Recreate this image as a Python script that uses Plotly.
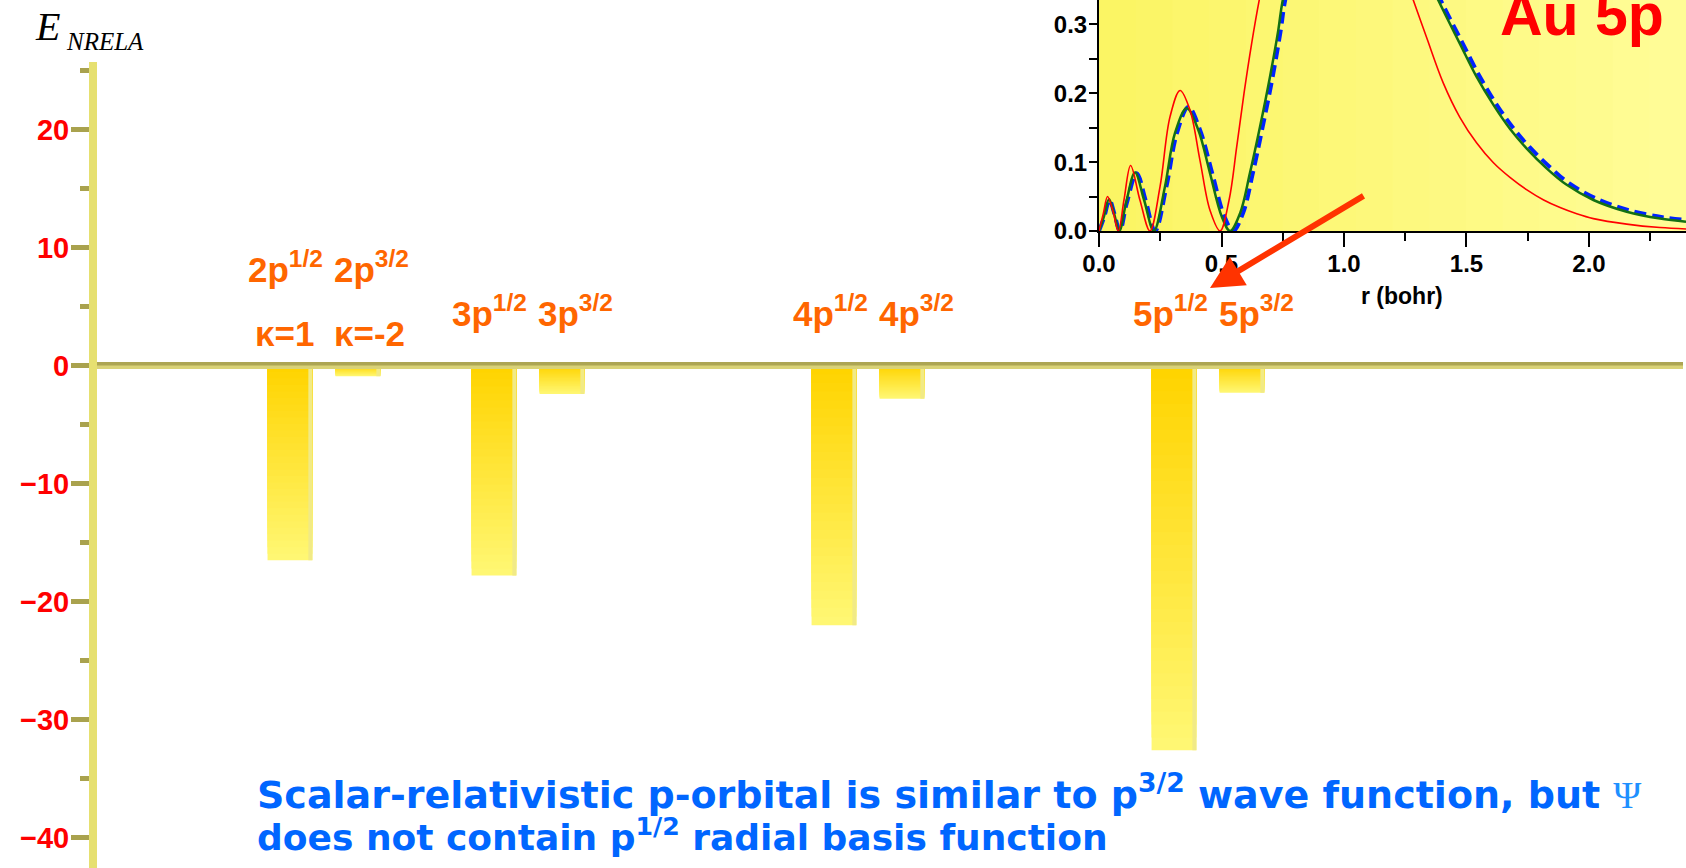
import plotly.graph_objects as go

# Bar chart: E_NRELA for the Au p-shells
levels = ['2p<sup>1/2</sup>', '2p<sup>3/2</sup>', '3p<sup>1/2</sup>', '3p<sup>3/2</sup>',
          '4p<sup>1/2</sup>', '4p<sup>3/2</sup>', '5p<sup>1/2</sup>', '5p<sup>3/2</sup>']
slots = [1, 2, 4, 5, 9, 10, 14, 15]
energies = [-16.5, -0.9, -17.8, -2.4, -22.0, -2.8, -32.6, -2.3]
kappas = ['κ=1', 'κ=-2']

# Inset: Au 5p radial densities vs r (bohr)
r_p12 = [0.0, 0.018, 0.035, 0.056, 0.079, 0.102, 0.129, 0.167, 0.208, 0.249, 0.290, 0.331,
         0.371, 0.412, 0.453, 0.494, 0.531, 0.562, 0.592, 0.623, 0.654, 0.72, 0.85, 0.95,
         1.08, 1.20, 1.283, 1.338, 1.405, 1.473, 1.541, 1.610, 1.680, 1.745, 1.815, 1.882,
         1.950, 2.018, 2.154, 2.290, 2.396]
d_p12 = [0.0, 0.026, 0.050, 0.030, 0.0, 0.045, 0.095, 0.045, 0.0, 0.064, 0.166, 0.204,
         0.176, 0.103, 0.030, 0.0, 0.045, 0.122, 0.200, 0.272, 0.335, 0.45, 0.55, 0.57,
         0.52, 0.42, 0.335, 0.280, 0.215, 0.165, 0.128, 0.099, 0.077, 0.060, 0.045, 0.034,
         0.025, 0.018, 0.010, 0.005, 0.003]

r_p32 = [0.0, 0.020, 0.041, 0.061, 0.083, 0.110, 0.147, 0.184, 0.224, 0.269, 0.310, 0.358,
         0.405, 0.453, 0.501, 0.535, 0.576, 0.616, 0.657, 0.698, 0.732, 0.750, 0.85, 1.0,
         1.15, 1.30, 1.385, 1.473, 1.541, 1.610, 1.678, 1.745, 1.827, 1.909, 2.018, 2.154,
         2.290, 2.396]
d_p32 = [0.0, 0.021, 0.046, 0.026, 0.0, 0.040, 0.085, 0.045, 0.0, 0.064, 0.142, 0.178,
         0.147, 0.084, 0.021, 0.0, 0.026, 0.084, 0.151, 0.224, 0.292, 0.335, 0.48, 0.55,
         0.50, 0.40, 0.335, 0.272, 0.224, 0.183, 0.148, 0.120, 0.091, 0.067, 0.045, 0.028,
         0.018, 0.0135]

r_sr = [0.0, 0.021, 0.043, 0.063, 0.085, 0.113, 0.154, 0.190, 0.229, 0.275, 0.318, 0.365,
        0.412, 0.462, 0.512, 0.548, 0.588, 0.628, 0.668, 0.709, 0.742, 0.760, 0.86, 1.01,
        1.16, 1.31, 1.395, 1.485, 1.553, 1.622, 1.690, 1.757, 1.840, 1.920, 2.030, 2.165,
        2.300, 2.396]
d_sr = [0.0, 0.020, 0.045, 0.025, 0.0, 0.040, 0.084, 0.045, 0.0, 0.064, 0.142, 0.180,
        0.147, 0.084, 0.021, 0.0, 0.026, 0.084, 0.151, 0.224, 0.292, 0.335, 0.48, 0.55,
        0.50, 0.40, 0.335, 0.272, 0.225, 0.184, 0.150, 0.122, 0.093, 0.069, 0.047, 0.030,
        0.020, 0.016]

W, H = 1686, 868
def fx(p):  # pixel -> paper x
    return p / W
def fy(p):  # pixel -> paper y
    return 1 - p / H
def mix(c1, c2, t):
    return 'rgb(%d,%d,%d)' % tuple(round(a + (b - a) * t) for a, b in zip(c1, c2))

fig = go.Figure()

# bars: overlapping copies, longest (pale) first, shortest (gold) last -> vertical fade
N = 30
for j in range(N, 0, -1):
    fig.add_trace(go.Bar(
        x=slots, y=[e * j / N for e in energies], width=0.66,
        marker_color=mix((255, 212, 0), (255, 247, 115), (j - 1) / (N - 1)),
        marker_line_width=0, xaxis='x', yaxis='y', hoverinfo='skip'))
# thin pale strip on the right side of every bar (the 3D edge)
fig.add_trace(go.Bar(x=slots, y=energies, width=0.06, offset=0.27,
                     marker_color='#F1EA86', marker_line_width=0,
                     xaxis='x', yaxis='y', hoverinfo='skip'))

# inset curves
fig.add_trace(go.Scatter(x=r_sr, y=d_sr, mode='lines', line_shape='spline',
                         line=dict(color='#0022FF', width=4, dash='12px,6px'),
                         xaxis='x2', yaxis='y2'))
fig.add_trace(go.Scatter(x=r_p32, y=d_p32, mode='lines', line_shape='spline',
                         line=dict(color='#137013', width=2.5), xaxis='x2', yaxis='y2'))
fig.add_trace(go.Scatter(x=r_p12, y=d_p12, mode='lines', line_shape='spline',
                         line=dict(color='#FF0000', width=1.6), xaxis='x2', yaxis='y2'))

olive = '#A9A24E'
inset_font = dict(family='Liberation Sans', size=24, color='black', weight='bold')
fig.update_layout(
    width=W, height=H, margin=dict(l=0, r=0, t=0, b=0),
    paper_bgcolor='white', plot_bgcolor='rgba(0,0,0,0)',
    showlegend=False, barmode='overlay',
    xaxis=dict(domain=[fx(97), fx(1683)], range=[-1.838, 21.485], visible=False),
    yaxis=dict(domain=[0, fy(62)], range=[-42.58, 25.73], anchor='x',
               showline=True, linecolor='#E6E070', linewidth=8,
               ticks='outside', ticklen=18, tickwidth=5, tickcolor=olive,
               tick0=0, dtick=10, showgrid=False, zeroline=False, automargin=False,
               ticklabelstandoff=-4,
               tickfont=dict(family='Liberation Sans', size=29, color='#FF0000', weight='bold'),
               minor=dict(dtick=5, ticks='outside', ticklen=9, tickwidth=5,
                          tickcolor=olive, showgrid=False)),
    xaxis2=dict(domain=[fx(1099), 1], range=[0, 2.396], anchor='y2',
                showline=True, linecolor='black', linewidth=2,
                ticks='outside', ticklen=14, tickwidth=2, tickcolor='black',
                tick0=0, dtick=0.5, tickformat='.1f', showgrid=False, zeroline=False,
                automargin=False, ticklabelstandoff=-4, tickfont=inset_font,
                minor=dict(dtick=0.25, ticks='outside', ticklen=8, tickwidth=2,
                           tickcolor='black', showgrid=False)),
    yaxis2=dict(domain=[fy(231), 1], range=[0, 0.3353], anchor='x2',
                showline=True, linecolor='black', linewidth=2,
                ticks='outside', ticklen=8, tickwidth=2, tickcolor='black',
                tick0=0, dtick=0.1, tickformat='.1f', showgrid=False, zeroline=False,
                automargin=False, ticklabelstandoff=-3, tickfont=inset_font,
                minor=dict(dtick=0.05, ticks='outside', ticklen=8, tickwidth=2,
                           tickcolor='black', showgrid=False)),
)

# inset background: light left-to-right fade
S = 16
for i in range(S):
    fig.add_shape(type='rect', xref='x2 domain', yref='y2 domain', x0=i / S, x1=(i + 1) / S + 0.002,
                  y0=0, y1=1, fillcolor=mix((251, 245, 100), (255, 252, 150), i / (S - 1)),
                  line_width=0, layer='below')

# 3D-ish zero line of the bar chart
fig.add_shape(type='rect', xref='x domain', yref='y', x0=0, x1=1, ysizemode='pixel',
              yanchor=0, y0=-3.5, y1=3.5, fillcolor='#D9D277', line_width=0, layer='above')
fig.add_shape(type='rect', xref='x domain', yref='y', x0=0, x1=1, ysizemode='pixel',
              yanchor=0, y0=0, y1=3.5, fillcolor='#ADA553', line_width=0, layer='above')

orange = '#FF6600'
lab_font = dict(family='Liberation Sans', size=35, color=orange, weight='bold')
for k, (txt, s) in enumerate(zip(levels, slots)):
    py = 267 if k < 2 else 311
    fig.add_annotation(x=s, xref='x', y=fy(py), yref='paper', text=txt, showarrow=False,
                       xanchor='center', yanchor='middle', font=lab_font,
                       xshift=14 if '3/2' in txt else -4)
for k, txt in enumerate(kappas):
    fig.add_annotation(x=slots[k], xref='x', y=fy(333), yref='paper', text=txt, showarrow=False,
                       xanchor='center', yanchor='middle', font=lab_font,
                       xshift=12 if k else -5)

# axis title E_NRELA
fig.add_annotation(x=fx(33), y=fy(26.5), xref='paper', yref='paper', text='<i>E</i>',
                   showarrow=False, xanchor='left', yanchor='middle',
                   font=dict(family='Liberation Serif', size=40, color='black'))
fig.add_annotation(x=fx(64), y=fy(41.5), xref='paper', yref='paper', text='<i>NRELA</i>',
                   showarrow=False, xanchor='left', yanchor='middle',
                   font=dict(family='Liberation Serif', size=25, color='black'))

# inset texts
fig.add_annotation(x=fx(1582), y=fy(14.6), xref='paper', yref='paper', text='Au 5p',
                   showarrow=False, xanchor='center', yanchor='middle',
                   font=dict(family='Liberation Sans', size=59, color='#FF0000', weight='bold'))
fig.add_annotation(x=fx(1402), y=fy(296), xref='paper', yref='paper', text='r (bohr)',
                   showarrow=False, xanchor='center', yanchor='middle',
                   font=dict(family='Liberation Sans', size=23, color='black', weight='bold'))

# red arrow pointing at the 5p labels
fig.add_annotation(x=fx(1210), y=fy(288), xref='paper', yref='paper', text='',
                   showarrow=True, ax=155, ay=-93, arrowcolor='#FF3300',
                   arrowwidth=6, arrowhead=2, arrowsize=1.1, standoff=0)

# note at the bottom
psi = '<span style="font-family:Liberation Serif;font-weight:normal;color:#1E90FF">Ψ</span>'
fig.add_annotation(x=fx(255), y=fy(792), xref='paper', yref='paper',
                   text='Scalar-relativistic p-orbital is similar to p<sup>3/2</sup> wave function, but&nbsp;' + psi,
                   showarrow=False, xanchor='left', yanchor='middle',
                   font=dict(family='DejaVu Sans', size=38, color='#0066FF', weight='bold'))
fig.add_annotation(x=fx(255), y=fy(835), xref='paper', yref='paper',
                   text='does not contain p<sup>1/2</sup> radial basis function',
                   showarrow=False, xanchor='left', yanchor='middle',
                   font=dict(family='DejaVu Sans', size=36, color='#0066FF', weight='bold'))

fig.write_html("out.html", config={'displayModeBar': False},
               post_script="document.body.style.margin='0px';")
